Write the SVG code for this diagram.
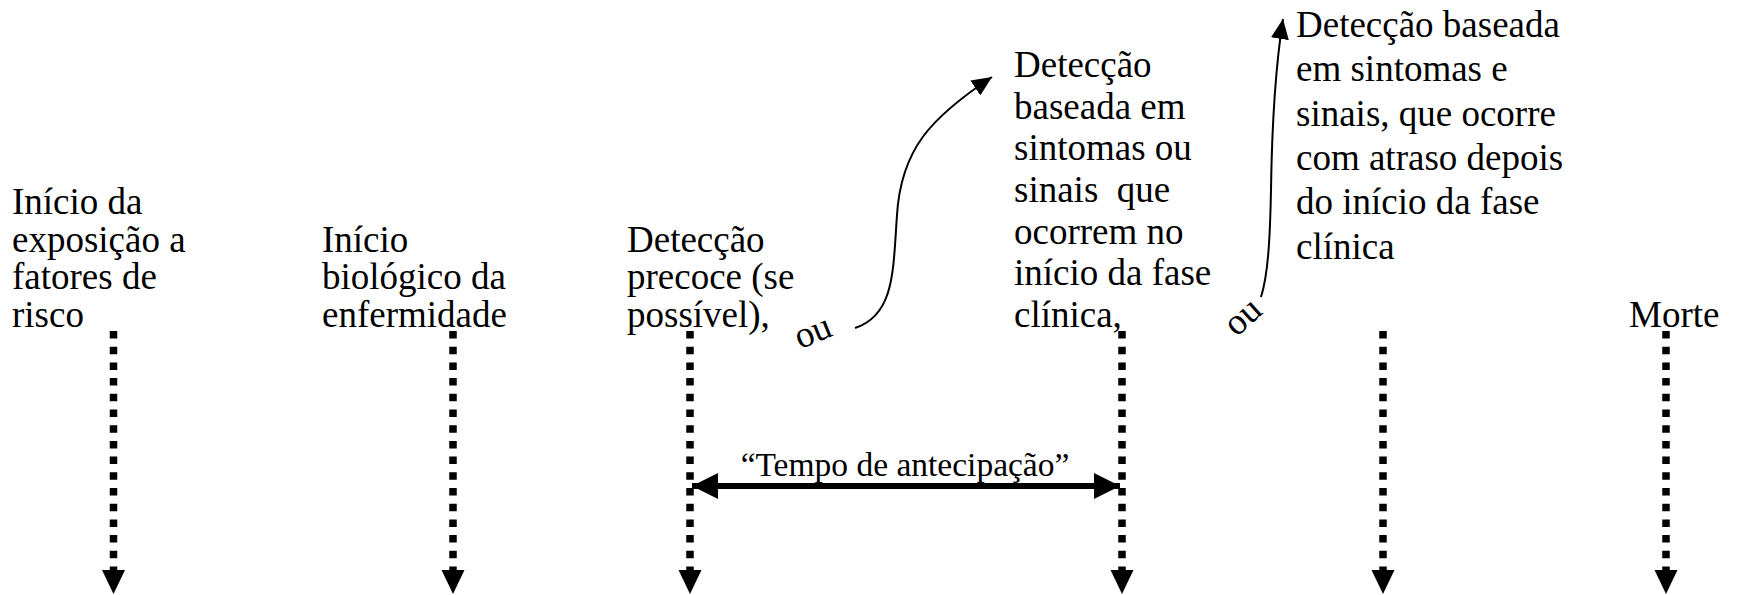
<svg xmlns="http://www.w3.org/2000/svg" width="1740" height="595" viewBox="0 0 1740 595">
<style>
  text { font-family: "Liberation Serif", "Times New Roman", serif; fill: #000; }
  .t { font-size: 37px; }
  .lbl { font-size: 33.5px; }
  .ou { font-size: 37px; }
  .dot { stroke: #000; stroke-width: 7.5; stroke-dasharray: 7.5 8.2; fill: none; }
  .curve { stroke: #000; stroke-width: 2; fill: none; }
  .head { fill: #000; }
</style>
<defs>
  <marker id="ah" markerUnits="userSpaceOnUse" markerWidth="22" markerHeight="18" refX="20" refY="9" orient="auto">
    <path d="M0,0 L20,9 L0,18 Z" fill="#000"/>
  </marker>
  <marker id="ah2" markerUnits="userSpaceOnUse" markerWidth="28" markerHeight="26" refX="26" refY="13" orient="auto-start-reverse">
    <path d="M0,0 L26,13 L0,26 Z" fill="#000"/>
  </marker>
</defs>

<g id="node-exposicao">
  <text class="t" x="12" y="214">Início da</text>
  <text class="t" x="12" y="251.7">exposição a</text>
  <text class="t" x="12" y="289.3">fatores de</text>
  <text class="t" x="12" y="327">risco</text>
</g>
<g id="node-inicio-biologico">
  <text class="t" x="322" y="251.7">Início</text>
  <text class="t" x="322" y="289.3">biológico da</text>
  <text class="t" x="322" y="327">enfermidade</text>
</g>
<g id="node-deteccao-precoce">
  <text class="t" x="627" y="251.7">Detecção</text>
  <text class="t" x="627" y="289.3">precoce (se</text>
  <text class="t" x="627" y="327">possível),</text>
</g>
<g id="node-deteccao-inicio">
  <text class="t" x="1014" y="77">Detecção</text>
  <text class="t" x="1014" y="118.7">baseada em</text>
  <text class="t" x="1014" y="160.3">sintomas ou</text>
  <text class="t" x="1014" y="202" style="white-space:pre">sinais  que</text>
  <text class="t" x="1014" y="243.7">ocorrem no</text>
  <text class="t" x="1014" y="285.3">início da fase</text>
  <text class="t" x="1014" y="327">clínica,</text>
</g>
<g id="node-deteccao-atraso">
  <text class="t" x="1296" y="37">Detecção baseada</text>
  <text class="t" x="1296" y="81.3">em sintomas e</text>
  <text class="t" x="1296" y="125.6">sinais, que ocorre</text>
  <text class="t" x="1296" y="169.9">com atraso depois</text>
  <text class="t" x="1296" y="214.2">do início da fase</text>
  <text class="t" x="1296" y="258.5">clínica</text>
</g>
<g id="node-morte">
  <text class="t" x="1629" y="327">Morte</text>
</g>
<g id="label-ou-1">
  <text class="ou" x="813" y="343" text-anchor="middle" transform="rotate(-22 813 332)">ou</text>
</g>
<g id="label-ou-2">
  <text class="ou" x="1243" y="328" text-anchor="middle" transform="rotate(-42 1243 317)">ou</text>
</g>
<g id="label-tempo">
  <text class="lbl" x="905" y="476" text-anchor="middle">“Tempo de antecipação”</text>
</g>

<g id="connectors">
  <line class="dot" x1="113.5" y1="331" x2="113.5" y2="572"/>
  <polygon class="head" points="102,570 125,570 113.5,594"/>
  <line class="dot" x1="453" y1="331" x2="453" y2="572"/>
  <polygon class="head" points="441.5,570 464.5,570 453,594"/>
  <line class="dot" x1="690" y1="331" x2="690" y2="572"/>
  <polygon class="head" points="678.5,570 701.5,570 690,594"/>
  <line class="dot" x1="1122" y1="331" x2="1122" y2="572"/>
  <polygon class="head" points="1110.5,570 1133.5,570 1122,594"/>
  <line class="dot" x1="1383" y1="331" x2="1383" y2="572"/>
  <polygon class="head" points="1371.5,570 1394.5,570 1383,594"/>
  <line class="dot" x1="1666" y1="331" x2="1666" y2="572"/>
  <polygon class="head" points="1654.5,570 1677.5,570 1666,594"/>

  <line x1="692" y1="486" x2="1120" y2="486" stroke="#000" stroke-width="6" marker-start="url(#ah2)" marker-end="url(#ah2)"/>

  <path class="curve" d="M 855 328 C 895 315, 893 270, 897 215 C 901 150, 930 118, 992 77" marker-end="url(#ah)"/>
  <path class="curve" d="M 1261 297 C 1268 275, 1270 240, 1271 190 C 1272 120, 1275 70, 1283 19" marker-end="url(#ah)"/>
</g>
</svg>
